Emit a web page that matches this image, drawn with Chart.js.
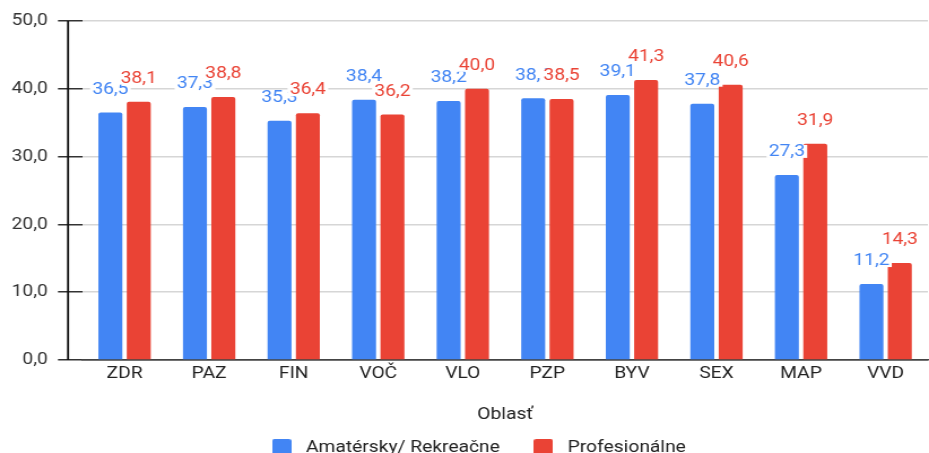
<!DOCTYPE html>
<html><head><meta charset="utf-8">
<script src="https://cdn.jsdelivr.net/npm/chart.js@4/dist/chart.umd.min.js"></script>
<style>
html,body{margin:0;padding:0;background:#fff;overflow:hidden;width:929px;height:453px}
#wrap{position:absolute;left:0;top:0;width:822px;height:466px;transform:scaleX(1.1302);transform-origin:0 0}
</style>
</head><body>
<div id="wrap"><canvas id="c" width="822" height="466"></canvas></div>
<script>
const categories = ['ZDR','PAZ','FIN','VOČ','VLO','PZP','BYV','SEX','MAP','VVD'];
const amaterValues = [36.5, 37.3, 35.3, 38.4, 38.2, 38.6, 39.1, 37.8, 27.3, 11.2];
const profValues   = [38.1, 38.8, 36.4, 36.2, 40.0, 38.5, 41.3, 40.6, 31.9, 14.3];
const seriesNames = ['Amatérsky/ Rekreačne', 'Profesionálne'];
const seriesColors = ['#4285F4', '#EA4335'];
const yTickValues = [0, 10, 20, 30, 40, 50];
const xAxisTitle = 'Oblasť';

const fmt = v => v.toFixed(1).replace('.', ',');
const FONT = 'Roboto';

// legend swatch images
function swatch(color) {
  const c = document.createElement('canvas');
  c.width = 17; c.height = 17;
  const g = c.getContext('2d');
  g.fillStyle = color;
  g.beginPath();
  if (g.roundRect) g.roundRect(0, 0, 17, 17, 2); else g.rect(0, 0, 17, 17);
  g.fill();
  return c;
}
const swatches = seriesColors.map(swatch);

const yAxisLine = {
  id: 'yAxisLine',
  afterDraw(chart) {
    const y = chart.scales.y, ctx = chart.ctx;
    const x = chart.chartArea.left - 12.6;
    ctx.save();
    ctx.strokeStyle = '#111';
    ctx.lineWidth = 1.8;
    ctx.beginPath();
    ctx.moveTo(x, y.getPixelForValue(50));
    ctx.lineTo(x, y.getPixelForValue(0));
    ctx.stroke();
    ctx.restore();
  }
};

const legendShift = {
  id: 'legendShift',
  afterLayout(chart) {
    if (chart.legend) { chart.legend.left += 11; chart.legend.right += 11; }
  }
};

const valueLabels = {
  id: 'valueLabels',
  afterDatasetsDraw(chart) {
    const ctx = chart.ctx;
    ctx.save();
    ctx.font = '17px ' + FONT;
    ctx.textAlign = 'center';
    ctx.textBaseline = 'middle';
    chart.data.datasets.forEach((ds, di) => {
      const meta = chart.getDatasetMeta(di);
      meta.data.forEach((bar, i) => {
        const t = fmt(ds.data[i]);
        const w = ctx.measureText(t).width;
        const cy = bar.y - 24;
        ctx.fillStyle = '#fff';
        ctx.fillRect(bar.x - w / 2 - 2, cy - 6, w + 4, 13);
        ctx.fillStyle = seriesColors[di];
        ctx.fillText(t, bar.x, cy + 1);
      });
    });
    ctx.restore();
  }
};

new Chart(document.getElementById('c'), {
  type: 'bar',
  data: {
    labels: categories,
    datasets: [
      { label: seriesNames[0], data: amaterValues, backgroundColor: seriesColors[0] },
      { label: seriesNames[1], data: profValues, backgroundColor: seriesColors[1] }
    ]
  },
  options: {
    responsive: false,
    animation: false,
    devicePixelRatio: 1,
    layout: { padding: { left: 0, right: 1, top: 21, bottom: 0 } },
    datasets: {
      bar: {
        categoryPercentage: 0.671,
        barPercentage: 0.845,
        borderRadius: { topLeft: 2, topRight: 2 },
        borderSkipped: 'bottom'
      }
    },
    scales: {
      x: {
        grid: { display: false, drawTicks: false },
        border: { display: true, color: '#444', width: 1.5 },
        ticks: { color: '#222', font: { family: FONT, size: 17 }, padding: 4 },
        title: { display: true, text: xAxisTitle, color: '#222', font: { family: FONT, size: 17 }, padding: { top: 0, bottom: -11.8 } },
        afterFit(s) { s.height = 53.4; }
      },
      y: {
        min: 0, max: 50,
        afterBuildTicks(s) { s.ticks = yTickValues.map(v => ({ value: v })); },
        grid: {
          color: c => (c.tick && c.tick.value === 0) ? '#444' : '#d6d6d6',
          lineWidth: 1.5,
          drawTicks: true,
          tickLength: 21.5,
          tickColor: '#333',
          tickWidth: 1.5
        },
        border: { display: false },
        ticks: { color: '#333', font: { family: FONT, size: 17 }, padding: 9, callback: v => fmt(v) },
        afterFit(s) { s.width = 72.8; }
      }
    },
    plugins: {
      legend: {
        position: 'bottom',
        labels: {
          color: '#222',
          font: { family: FONT, size: 17 },
          usePointStyle: true,
          pointStyleWidth: 26,
          boxHeight: 17,
          padding: 25.6,
          generateLabels(chart) {
            const items = Chart.defaults.plugins.legend.labels.generateLabels(chart);
            items.forEach((it, i) => { it.pointStyle = swatches[i]; });
            return items;
          }
        }
      },
      tooltip: { enabled: false }
    }
  },
  plugins: [yAxisLine, legendShift, valueLabels]
});
</script>
</body></html>
